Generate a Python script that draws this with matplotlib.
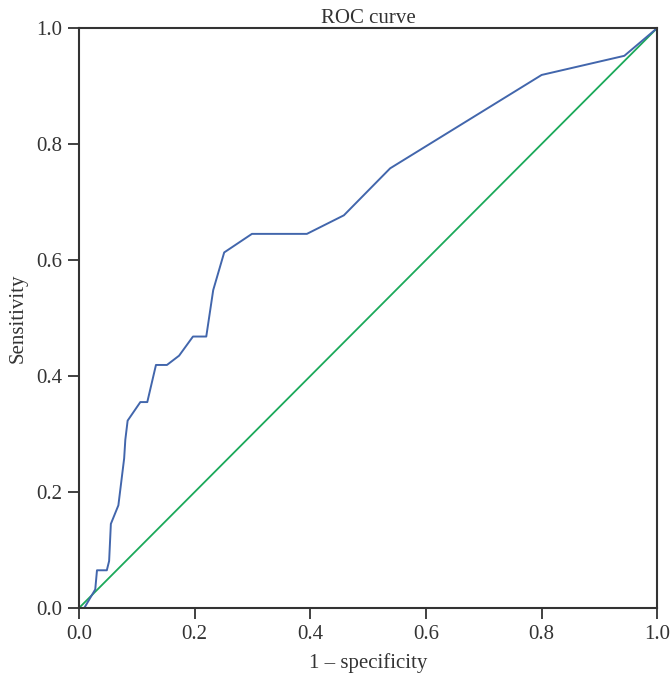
import matplotlib
matplotlib.use("Agg")
import matplotlib.pyplot as plt

# ROC curve data (1 - specificity, sensitivity)
fpr = [0.0, 0.009, 0.028, 0.031, 0.048, 0.052, 0.055, 0.068, 0.078, 0.080, 0.084,
       0.106, 0.118, 0.133, 0.152, 0.173, 0.197, 0.220, 0.232, 0.251, 0.299,
       0.394, 0.458, 0.538, 0.800, 0.943, 1.0]
tpr = [0.0, 0.0, 0.032, 0.065, 0.065, 0.081, 0.145, 0.177, 0.258, 0.290, 0.323,
       0.355, 0.355, 0.419, 0.419, 0.435, 0.468, 0.468, 0.548, 0.613, 0.645,
       0.645, 0.677, 0.758, 0.919, 0.952, 1.0]
ref_x = [0.0, 1.0]
ref_y = [0.0, 1.0]
ticks = [0.0, 0.2, 0.4, 0.6, 0.8, 1.0]
tick_labels = ["0.0", "0.2", "0.4", "0.6", "0.8", "1.0"]

plt.rcParams['font.family'] = ['Liberation Serif', 'DejaVu Serif']

fig = plt.figure(figsize=(6.7, 6.79), dpi=100)
ax = fig.add_axes([0.118, 0.1046, 0.863, 0.8542])

ax.plot(ref_x, ref_y, color='#1BA95A', lw=1.3)
ax.plot(fpr, tpr, color='#4266AC', lw=1.4)

ax.set_xlim(0, 1)
ax.set_ylim(0, 1)
ax.set_xticks(ticks)
ax.set_xticklabels(tick_labels)
ax.set_yticks(ticks)
ax.set_yticklabels(tick_labels)

for s in ax.spines.values():
    s.set_color('#333333')
    s.set_linewidth(1.5)

ax.tick_params(axis='both', which='both', direction='out', length=8, width=1.3,
               color='#333333', labelsize=15, labelcolor='#333333',
               top=False, right=False, pad=4)

ax.set_xlabel("1 – specificity", fontsize=15, color='#333333', labelpad=7)
ax.set_ylabel("Sensitivity", fontsize=15, color='#333333', labelpad=6)
ax.set_title("ROC curve", fontsize=15, color='#333333', pad=0)

fig.savefig("out.png", dpi=100)
